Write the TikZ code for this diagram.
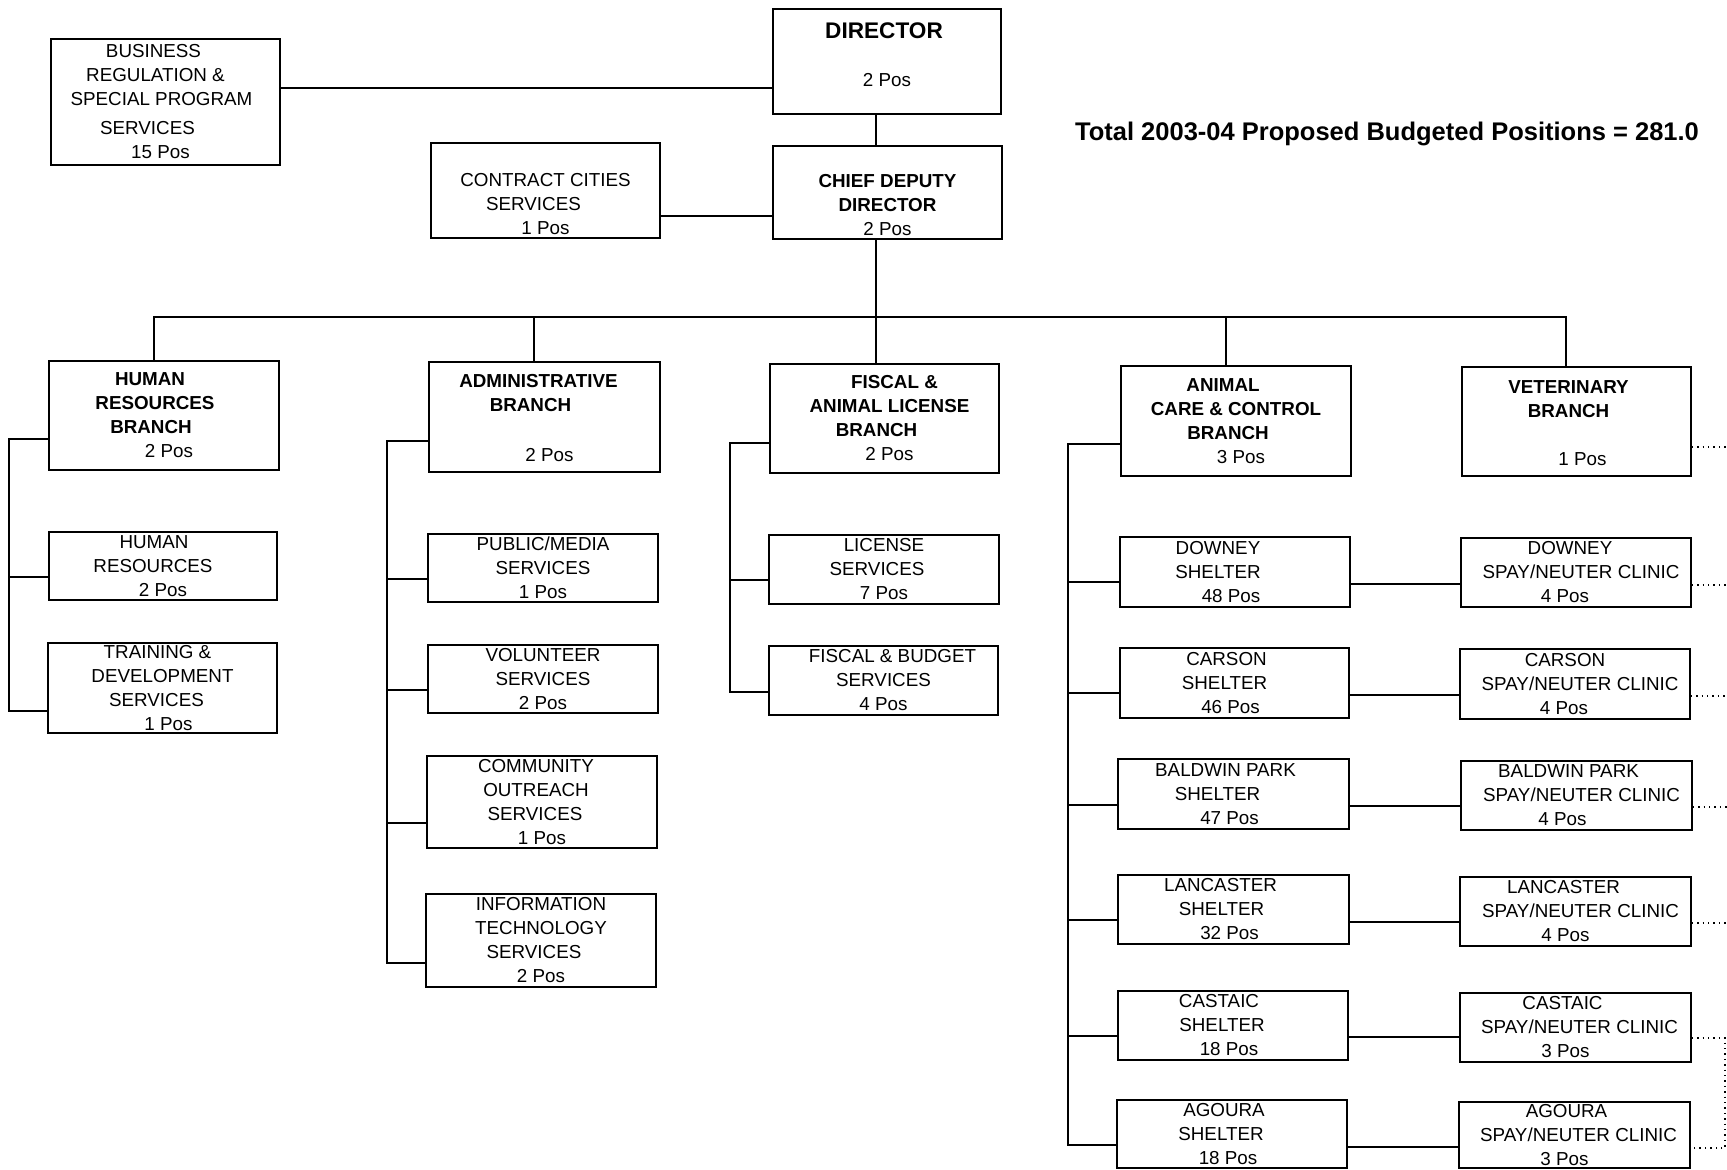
\documentclass[tikz,border=0pt]{standalone}
\usepackage{fontspec}
\setmainfont{Liberation Sans}
\usetikzlibrary{fit}
\newcommand\unitfont{\fontsize{9.4}{12}\selectfont}
% shift one centred line sideways without changing its width
\newcommand\nudge[2]{\hbox{\kern#1\relax#2\kern-#1\relax}}
\begin{document}
\begin{tikzpicture}[x=0.5pt,y=-0.5pt,
  unit/.style={draw, line width=0.8pt, inner sep=0pt},
  utext/.style={align=center, font=\unitfont, inner sep=0pt},
  link/.style={line width=0.8pt},
  dotlink/.style={line width=0.7pt, dotted}]
\useasboundingbox (0,0) rectangle (1727,1170);

% executive offices
\node[unit, fit={(773,9) (1001,114)},
  label={[utext, yshift=3.6pt]center:{\nudge{-1.5pt}{\fontsize{11.3}{13}\selectfont\bfseries DIRECTOR}\\[12pt]2 Pos}}] (dir) {};
\node[unit, fit={(51,39) (280,165)},
  label={[utext]center:{\nudge{-6pt}{BUSINESS}\\\nudge{-5pt}{REGULATION \&}\\\nudge{-2pt}{SPECIAL PROGRAM}\\[2.5pt]\nudge{-9pt}{SERVICES}\\\nudge{-2.5pt}{15 Pos}}}] (biz) {};
\node[unit, fit={(431,143) (660,238)},
  label={[utext, yshift=-7pt]center:{CONTRACT CITIES\\\nudge{-6pt}{SERVICES}\\1 Pos}}] (ccs) {};
\node[unit, fit={(773,146) (1002,239)},
  label={[utext, yshift=-6.5pt]center:{\textbf{CHIEF DEPUTY}\\\textbf{DIRECTOR}\\2 Pos}}] (chief) {};
\node[font=\fontsize{12.75}{15}\selectfont\bfseries] (total) at (1387,134) {Total 2003-04 Proposed Budgeted Positions = 281.0};

% branches
\node[unit, fit={(49,361) (279,470)},
  label={[utext]center:{\nudge{-7pt}{\textbf{HUMAN}}\\\nudge{-4.5pt}{\textbf{RESOURCES}}\\\nudge{-6.5pt}{\textbf{BRANCH}}\\\nudge{2.5pt}{2 Pos}}}] (hrb) {};
\node[unit, fit={(429,362) (660,472)},
  label={[utext, yshift=-0.75pt]center:{\nudge{-3pt}{\textbf{ADMINISTRATIVE}}\\\nudge{-7pt}{\textbf{BRANCH}}\\[13pt]\nudge{2.5pt}{2 Pos}}}] (adm) {};
\node[unit, fit={(770,364) (999,473)},
  label={[utext]center:{\nudge{5pt}{\textbf{FISCAL \&}}\\\nudge{2.5pt}{\textbf{ANIMAL LICENSE}}\\\nudge{-4pt}{\textbf{BRANCH}}\\\nudge{2.5pt}{2 Pos}}}] (fsb) {};
\node[unit, fit={(1121,366) (1351,476)},
  label={[utext]center:{\nudge{-6.5pt}{\textbf{ANIMAL}}\\\textbf{CARE \& CONTROL}\\\nudge{-4pt}{\textbf{BRANCH}}\\\nudge{2.5pt}{3 Pos}}}] (acc) {};
\node[unit, fit={(1462,367) (1691,476)},
  label={[utext, yshift=-0.75pt]center:{\nudge{-4pt}{\textbf{VETERINARY}}\\\nudge{-4pt}{\textbf{BRANCH}}\\[12pt]\nudge{3pt}{1 Pos}}}] (vet) {};

% human resources units
\node[unit, fit={(49,532) (277,600)},
  label={[utext]center:{\nudge{-4.5pt}{HUMAN}\\\nudge{-5pt}{RESOURCES}\\2 Pos}}] (hr) {};
\node[unit, fit={(48,643) (277,733)},
  label={[utext]center:{\nudge{-2.5pt}{TRAINING \&}\\DEVELOPMENT\\\nudge{-3pt}{SERVICES}\\\nudge{3pt}{1 Pos}}}] (trn) {};

% administrative units
\node[unit, fit={(428,534) (658,602)},
  label={[utext]center:{PUBLIC/MEDIA\\SERVICES\\1 Pos}}] (pub) {};
\node[unit, fit={(428,645) (658,713)},
  label={[utext]center:{VOLUNTEER\\SERVICES\\2 Pos}}] (vol) {};
\node[unit, fit={(427,756) (657,848)},
  label={[utext]center:{\nudge{-3pt}{COMMUNITY}\\\nudge{-3pt}{OUTREACH}\\\nudge{-3.5pt}{SERVICES}\\1 Pos}}] (com) {};
\node[unit, fit={(426,894) (656,987)},
  label={[utext]center:{INFORMATION\\TECHNOLOGY\\\nudge{-3.5pt}{SERVICES}\\2 Pos}}] (its) {};

% fiscal units
\node[unit, fit={(769,535) (999,604)},
  label={[utext]center:{LICENSE\\\nudge{-3.5pt}{SERVICES}\\7 Pos}}] (lic) {};
\node[unit, fit={(769,646) (998,715)},
  label={[utext]center:{\nudge{4.5pt}{FISCAL \& BUDGET}\\SERVICES\\4 Pos}}] (fbs) {};

% shelters
\node[unit, fit={(1120,537) (1350,607)},
  label={[utext]center:{\nudge{-8.5pt}{DOWNEY}\\\nudge{-8.5pt}{SHELTER}\\\nudge{-2pt}{48 Pos}}}] (sdow) {};
\node[unit, fit={(1120,648) (1349,718)},
  label={[utext]center:{\nudge{-4pt}{CARSON}\\\nudge{-5pt}{SHELTER}\\\nudge{-2pt}{46 Pos}}}] (scar) {};
\node[unit, fit={(1118,759) (1349,829)},
  label={[utext]center:{\nudge{-4pt}{BALDWIN PARK}\\\nudge{-8pt}{SHELTER}\\\nudge{-2pt}{47 Pos}}}] (sbal) {};
\node[unit, fit={(1118,875) (1349,944)},
  label={[utext]center:{\nudge{-6.5pt}{LANCASTER}\\\nudge{-6pt}{SHELTER}\\\nudge{-2pt}{32 Pos}}}] (slan) {};
\node[unit, fit={(1118,991) (1348,1060)},
  label={[utext]center:{\nudge{-7pt}{CASTAIC}\\\nudge{-5.5pt}{SHELTER}\\\nudge{-2pt}{18 Pos}}}] (scas) {};
\node[unit, fit={(1117,1100) (1347,1168)},
  label={[utext]center:{\nudge{-4pt}{AGOURA}\\\nudge{-5.5pt}{SHELTER}\\\nudge{-2pt}{18 Pos}}}] (sago) {};

% spay/neuter clinics
\node[unit, fit={(1461,538) (1691,607)},
  label={[utext]center:{\nudge{-3pt}{DOWNEY}\\\nudge{2.5pt}{SPAY/NEUTER CLINIC}\\\nudge{-5.5pt}{4 Pos}}}] (cdow) {};
\node[unit, fit={(1460,649) (1690,719)},
  label={[utext]center:{\nudge{-5pt}{CARSON}\\\nudge{2.5pt}{SPAY/NEUTER CLINIC}\\\nudge{-5.5pt}{4 Pos}}}] (ccar) {};
\node[unit, fit={(1461,761) (1692,830)},
  label={[utext]center:{\nudge{-4pt}{BALDWIN PARK}\\\nudge{2.5pt}{SPAY/NEUTER CLINIC}\\\nudge{-7pt}{4 Pos}}}] (cbal) {};
\node[unit, fit={(1460,877) (1691,946)},
  label={[utext]center:{\nudge{-6pt}{LANCASTER}\\\nudge{2.5pt}{SPAY/NEUTER CLINIC}\\\nudge{-5pt}{4 Pos}}}] (clan) {};
\node[unit, fit={(1460,993) (1691,1062)},
  label={[utext]center:{\nudge{-6.5pt}{CASTAIC}\\\nudge{2pt}{SPAY/NEUTER CLINIC}\\\nudge{-5pt}{3 Pos}}}] (ccas) {};
\node[unit, fit={(1459,1102) (1690,1168)},
  label={[utext]center:{\nudge{-4pt}{AGOURA}\\\nudge{2pt}{SPAY/NEUTER CLINIC}\\\nudge{-5pt}{3 Pos}}}] (cago) {};

% top of the chart
\draw[link] (biz.east |- 0,88) -- (dir.west |- 0,88);
\draw[link] (ccs.east |- 0,216) -- (chief.west |- 0,216);
\draw[link] (dir.south -| 876,0) -- (chief.north -| 876,0);
\draw[link] (chief.south -| 876,0) -- (fsb.north -| 876,0);

% branch bus
\coordinate (busL) at (154,317);
\coordinate (busR) at (1566,317);
\draw[link] (hrb.north -| busL) -- (busL) -- (busR) -- (vet.north -| busR);
\draw[link] (adm.north -| 534,0) -- (534,317);
\draw[link] (acc.north -| 1226,0) -- (1226,317);

% human resources spine
\draw[link] (hrb.west |- 0,439) -- (9,439) |- (trn.west |- 0,711);
\draw[link] (9,577) -- (hr.west |- 0,577);

% administrative spine
\draw[link] (adm.west |- 0,441) -- (387,441) |- (its.west |- 0,963);
\draw[link] (387,579) -- (pub.west |- 0,579);
\draw[link] (387,690) -- (vol.west |- 0,690);
\draw[link] (387,823) -- (com.west |- 0,823);

% fiscal spine
\draw[link] (fsb.west |- 0,443) -- (730,443) |- (fbs.west |- 0,692);
\draw[link] (730,580) -- (lic.west |- 0,580);

% animal care spine
\draw[link] (acc.west |- 0,444) -- (1068,444) |- (sago.west |- 0,1145);
\draw[link] (1068,582) -- (sdow.west |- 0,582);
\draw[link] (1068,693) -- (scar.west |- 0,693);
\draw[link] (1068,805) -- (sbal.west |- 0,805);
\draw[link] (1068,920) -- (slan.west |- 0,920);
\draw[link] (1068,1036) -- (scas.west |- 0,1036);

% shelter to clinic
\draw[link] (sdow.east |- 0,584) -- (cdow.west |- 0,584);
\draw[link] (scar.east |- 0,695) -- (ccar.west |- 0,695);
\draw[link] (sbal.east |- 0,806) -- (cbal.west |- 0,806);
\draw[link] (slan.east |- 0,922) -- (clan.west |- 0,922);
\draw[link] (scas.east |- 0,1037) -- (ccas.west |- 0,1037);
\draw[link] (sago.east |- 0,1147) -- (cago.west |- 0,1147);

% dotted ties leading off the right side
\coordinate (rim) at (1727,0);
\draw[dotlink] (vet.east |- 0,447) -- (rim |- 0,447);
\draw[dotlink] (cdow.east |- 0,585) -- (rim |- 0,585);
\draw[dotlink] (ccar.east |- 0,696) -- (rim |- 0,696);
\draw[dotlink] (cbal.east |- 0,807) -- (rim |- 0,807);
\draw[dotlink] (clan.east |- 0,923) -- (rim |- 0,923);
\draw[dotlink] (ccas.east |- 0,1038) -- (1725,1038) -- (1725,1148) -- (cago.east |- 0,1148);
\end{tikzpicture}
\end{document}
